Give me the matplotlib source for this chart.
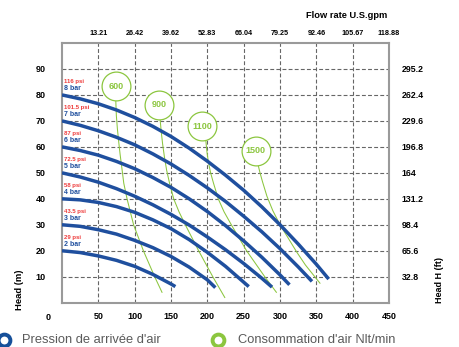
import matplotlib
matplotlib.use("Agg")
import matplotlib.pyplot as plt
from matplotlib.lines import Line2D

plt.rcParams['font.family'] = ['Liberation Sans', 'DejaVu Sans']

# ---- data ----
flow_lpm_ticks = [50, 100, 150, 200, 250, 300, 350, 400, 450]
flow_gpm_labels = ["13.21", "26.42", "39.62", "52.83", "66.04", "79.25", "92.46", "105.67", "118.88"]
head_m_ticks = [10, 20, 30, 40, 50, 60, 70, 80, 90]
head_ft_labels = ["32.8", "65.6", "98.4", "131.2", "164", "196.8", "229.6", "262.4", "295.2"]

bar_names = ["8 bar", "7 bar", "6 bar", "5 bar", "4 bar", "3 bar", "2 bar"]
psi_names = ["116 psi", "101.5 psi", "87 psi", "72.5 psi", "58 psi", "43.5 psi", "29 psi"]

bar8_x = [0, 25, 50, 75, 100, 125, 150, 175, 200, 225, 250, 275, 300, 325, 350, 367]
bar8_y = [80, 78.5, 76.6, 74.2, 71.3, 67.9, 64.0, 59.5, 54.5, 49.1, 43.3, 36.9, 30.0, 22.6, 14.8, 9.1]
bar7_x = [0, 25, 50, 75, 100, 125, 150, 175, 200, 225, 250, 275, 300, 325, 344]
bar7_y = [70, 68.3, 66.2, 63.7, 60.8, 57.3, 53.4, 49.0, 44.2, 39.0, 33.3, 27.3, 20.8, 13.8, 8.2]
bar6_x = [0, 25, 50, 75, 100, 125, 150, 175, 200, 225, 250, 275, 300, 313]
bar6_y = [60, 58.6, 56.8, 54.4, 51.6, 48.2, 44.4, 40.0, 35.1, 29.7, 23.8, 17.5, 10.7, 6.9]
bar5_x = [0, 25, 50, 75, 100, 125, 150, 175, 200, 225, 250, 275, 289]
bar5_y = [50, 48.4, 46.4, 43.9, 41.0, 37.7, 34.0, 29.9, 25.3, 20.4, 15.1, 9.4, 6.0]
bar4_x = [0, 25, 50, 75, 100, 125, 150, 175, 200, 225, 257]
bar4_y = [40, 39.6, 38.6, 37.0, 34.8, 31.9, 28.5, 24.3, 19.4, 14.0, 6.2]
bar3_x = [0, 25, 50, 75, 100, 125, 150, 175, 200, 211]
bar3_y = [30, 29.4, 28.1, 26.4, 24.0, 21.2, 17.8, 13.7, 8.8, 5.8]
bar2_x = [0, 25, 50, 75, 100, 125, 150, 156]
bar2_y = [20, 19.3, 18.0, 16.3, 14.0, 10.9, 7.2, 6.2]

air_names = ["600", "900", "1100", "1500"]
air_label_x = [74, 133.5, 193, 266.5]
air_label_y = [83.4, 76.3, 67.9, 58.5]
air600_x = [74, 74.8, 76.2, 78, 80, 82.3, 85, 89.5, 98.5, 112, 127.5, 137.6]
air600_y = [77.8, 72, 67, 62, 57, 52, 46, 40, 30, 20, 10, 4]
air900_x = [135, 136.5, 138.5, 141, 144, 148, 153.7, 161, 169.7, 188, 207.5, 224]
air900_y = [70.6, 66, 61, 56, 51, 46, 40, 35, 30, 20, 10, 2]
air1100_x = [198, 199.5, 201.5, 204.5, 208.5, 215, 223, 233, 254, 279, 295]
air1100_y = [62.2, 58, 54, 50, 46, 40, 35, 30, 20, 10, 4]
air1500_x = [270, 272.5, 276, 282, 290, 300, 311, 323, 335, 345, 355]
air1500_y = [52.9, 50, 46.5, 41, 35.5, 30, 25, 19.5, 14.5, 11, 7.5]

blue = "#1f4f9e"
green = "#8cc63f"
red = "#ee3b3b"
grid_c = "#666666"
spine_c = "#9a9a9a"

fig = plt.figure(figsize=(4.59, 3.47), dpi=100)
ax = fig.add_axes([0.1351, 0.1277, 0.7124, 0.7484])
ax.set_xlim(0, 450)
ax.set_ylim(0, 100)

ax.set_xticks(flow_lpm_ticks)
ax.set_xticklabels([str(v) for v in flow_lpm_ticks], fontsize=6.5, fontweight='bold')
ax.set_yticks(head_m_ticks)
ax.set_yticklabels([str(v) for v in head_m_ticks], fontsize=6.5, fontweight='bold')
ax.tick_params(axis='x', length=0, pad=7)
ax.tick_params(axis='y', length=0, pad=12)
ax.grid(True, color=grid_c, linestyle=(0, (3.5, 2)), linewidth=0.8)
ax.set_axisbelow(True)
for s in ax.spines.values():
    s.set_color(spine_c)
    s.set_linewidth(1.5)

ax_top = ax.twiny()
ax_top.set_xlim(0, 450)
ax_top.set_xticks(flow_lpm_ticks)
ax_top.set_xticklabels(flow_gpm_labels, fontsize=5.2, fontweight='bold')
ax_top.tick_params(axis='x', length=0, pad=4)

ax_r = ax.twinx()
ax_r.set_ylim(0, 100)
ax_r.set_yticks(head_m_ticks)
ax_r.set_yticklabels(head_ft_labels, fontsize=6.3, fontweight='bold')
ax_r.tick_params(axis='y', length=0, pad=9)
for a in (ax_top, ax_r):
    for s in a.spines.values():
        s.set_visible(False)

bars = [(bar8_x, bar8_y), (bar7_x, bar7_y), (bar6_x, bar6_y), (bar5_x, bar5_y),
        (bar4_x, bar4_y), (bar3_x, bar3_y), (bar2_x, bar2_y)]
airs = [(air600_x, air600_y), (air900_x, air900_y), (air1100_x, air1100_y), (air1500_x, air1500_y)]

for xs, ys in airs:
    ax.plot(xs, ys, color=green, linewidth=0.75, zorder=3, solid_joinstyle='round')

for (xs, ys), bn, pn in zip(bars, bar_names, psi_names):
    ax.plot(xs, ys, color=blue, linewidth=2.5, solid_capstyle='butt',
            solid_joinstyle='round', zorder=4)
    ax.annotate(pn, (xs[0], ys[0]), xytext=(1.5, 9.5), textcoords='offset points',
                fontsize=4.3, fontweight='bold', color=red, va='center', ha='left', zorder=6)
    ax.annotate(bn, (xs[0], ys[0]), xytext=(1.5, 4.6), textcoords='offset points',
                fontsize=5.0, fontweight='bold', color=blue, va='center', ha='left', zorder=6)

ax.scatter(air_label_x, air_label_y, s=430, facecolor='white', edgecolor=green,
           linewidth=0.9, zorder=5, clip_on=False)
for xl, yl, nm in zip(air_label_x, air_label_y, air_names):
    ax.text(xl, yl, nm, color=green, fontsize=6.5, fontweight='bold',
            ha='center', va='center', zorder=6)

# corner zero
fig.text(48 / 459, 1 - 317 / 347, "0", fontsize=6.5, fontweight='bold', ha='center', va='center')

fig.text(346.5 / 459, 1 - 15 / 347, "Flow rate U.S.gpm", fontsize=6.7, fontweight='bold',
         ha='center', va='center')
fig.text(20 / 459, 1 - 290 / 347, "Head (m)", fontsize=6.8, fontweight='bold',
         rotation=90, ha='center', va='center')
fig.text(439 / 459, 1 - 280 / 347, "Head H (ft)", fontsize=6.5, fontweight='bold',
         rotation=90, ha='center', va='center')

# legend
fig.lines.append(Line2D([4 / 459], [1 - 340 / 347], marker='o', markersize=8.5,
                 markerfacecolor='white', markeredgecolor='#16509a', markeredgewidth=2.8,
                 transform=fig.transFigure, linestyle='none'))
fig.lines.append(Line2D([217.5 / 459], [1 - 340 / 347], marker='o', markersize=8.5,
                 markerfacecolor='white', markeredgecolor=green, markeredgewidth=2.8,
                 transform=fig.transFigure, linestyle='none'))
fig.text(22 / 459, 1 - 340 / 347, "Pression de arrivée d'air", fontsize=9.3, color='#5a5a5a',
         ha='left', va='center')
fig.text(238 / 459, 1 - 340 / 347, "Consommation d'air Nlt/min", fontsize=9.3, color='#5a5a5a',
         ha='left', va='center')

fig.savefig("out.png", dpi=100)
